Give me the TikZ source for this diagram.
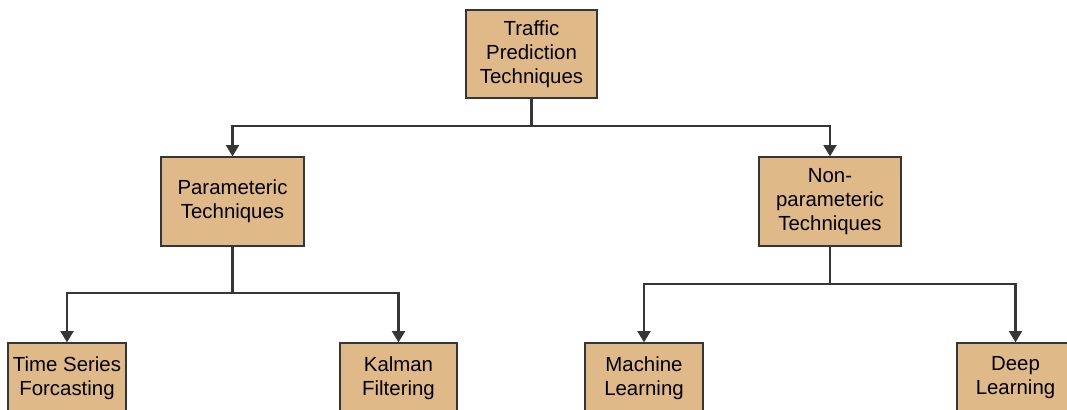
\documentclass[tikz,border=0pt]{standalone}
\usepackage{fontspec}
\setmainfont{Liberation Sans}
\usetikzlibrary{arrows.meta}
\definecolor{boxfill}{HTML}{DFB987}
\definecolor{linegray}{HTML}{363636}
\tikzset{
  box/.style 2 args={draw=linegray, line width=0.8pt, fill=boxfill,
    minimum width=#1*0.75pt, minimum height=#2*0.75pt, inner sep=0pt,
    align=center, font=\fontsize{15.3}{18}\selectfont},
  link/.style={draw=linegray, line width=2.1pt},
  arr/.style={link, -{Triangle[length=8.5pt,width=9.5pt]}}
}
\begin{document}
\begin{tikzpicture}[x=0.75pt,y=-0.75pt]
  \useasboundingbox (0,0) rectangle (1067,410);
  \clip (0,0) rectangle (1067,410);
  % tree of techniques
  \node[box={131}{88}] (root) at (531.5,54) {Traffic\\Prediction\\Techniques};
  \node[box={143}{89}] (param) at (232.5,201.5) {Parameteric\\Techniques};
  \node[box={142}{89}] (nonparam) at (830,201.5) {Non-\\parameteric\\Techniques};
  \node[box={118}{70}] (ts) at (67,378) {Time Series\\Forcasting};
  \node[box={117}{70}] (kf) at (398.5,378) {Kalman\\Filtering};
  \node[box={118}{70}] (ml) at (644,378) {Machine\\Learning};
  \node[box={117}{70}] (dl) at (1015.5,378) {Deep\\Learning};
  % branch points
  \coordinate (j0) at (531.5,126);
  \coordinate (j1) at (232.5,293);
  \coordinate (j2) at (830,284);
  % connectors
  \draw[link] (root.south) -- (j0);
  \draw[arr] (j0) -| (param.north);
  \draw[arr] (j0) -| (nonparam.north);
  \draw[link] (param.south) -- (j1);
  \draw[arr] (j1) -| (ts.north);
  \draw[arr] (j1) -| (kf.north);
  \draw[link] (nonparam.south) -- (j2);
  \draw[arr] (j2) -| (ml.north);
  \draw[arr] (j2) -| (dl.north);
\end{tikzpicture}
\end{document}
